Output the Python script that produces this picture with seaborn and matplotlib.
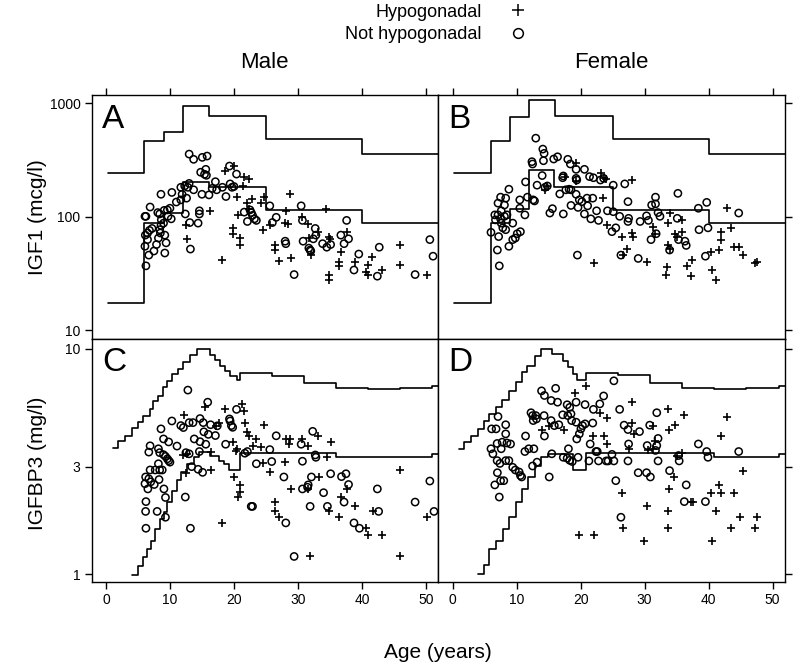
import matplotlib
matplotlib.use("Agg")
import matplotlib.pyplot as plt
import seaborn as sns
from matplotlib.lines import Line2D
from matplotlib.ticker import NullLocator

# ---- reference range step curves (age, value) ----
igf1_male_upper_age = [0.36, 6.0, 9.06, 12.0, 16.1, 25.0, 40.0, 52.0]
igf1_male_upper_val = [245, 464, 560, 942, 770, 483, 355, 355]
igf1_male_lower_age = [0.36, 6.0, 9.06, 12.0, 16.1, 25.0, 40.0, 52.0]
igf1_male_lower_val = [17.3, 88, 109, 201, 182, 114, 89, 89]

igf1_female_upper_age = [0.26, 6.0, 9.0, 12.0, 16.0, 25.0, 40.0, 52.0]
igf1_female_upper_val = [245, 464, 750, 1062, 770, 483, 355, 355]
igf1_female_lower_age = [0.26, 6.0, 9.0, 12.0, 15.8, 25.0, 40.0, 52.0]
igf1_female_lower_val = [17.3, 88, 117, 258, 182, 114, 89, 89]

bp3_male_upper_age = [1.15, 1.93, 2.97, 4.0, 5.05, 5.83, 6.87, 7.4, 8.18, 8.96, 9.5, 10.26,
                      11.3, 12.1, 13.1, 14.2, 16.25, 17.0, 17.8, 18.6, 19.4, 20.4, 20.9,
                      26.0, 31.0, 36.0, 41.0, 46.0, 51.0, 52.0]
bp3_male_upper_val = [3.64, 3.89, 4.12, 4.46, 4.72, 5.05, 5.41, 5.89, 6.19, 6.74, 7.21, 7.73,
                      8.13, 8.69, 9.4, 9.97, 9.4, 8.9, 8.4, 7.95, 7.6, 7.27, 7.8,
                      7.6, 7.02, 6.67, 6.59, 6.67, 6.81, 6.81]
bp3_male_lower_age = [4.0, 5.05, 5.83, 6.35, 7.1, 7.7, 8.4, 9.06, 9.5, 10.26, 11.04, 11.8,
                      12.6, 13.7, 14.5, 16.25, 17.6, 18.4, 19.2, 21.0, 36.0, 51.0, 52.0]
bp3_male_lower_val = [0.99, 1.085, 1.19, 1.30, 1.41, 1.59, 1.75, 1.89, 2.09, 2.35, 2.61, 2.84,
                      3.07, 3.30, 3.48, 3.35, 3.19, 3.09, 2.90, 3.45, 3.32, 3.42, 3.42]

bp3_female_upper_age = [1.04, 1.82, 2.86, 3.9, 4.84, 5.73, 6.77, 7.8, 8.85, 9.9, 10.8, 11.7,
                        12.9, 13.8, 15.6, 17.2, 18.0, 18.75, 19.5, 20.8, 25.8, 30.8, 35.8,
                        40.8, 45.8, 51.0, 52.0]
bp3_female_upper_val = [3.60, 3.85, 4.12, 4.41, 4.79, 5.14, 5.50, 5.93, 6.52, 7.09, 7.84, 8.4,
                        9.3, 9.97, 9.48, 8.85, 8.27, 7.73, 7.27, 7.8, 7.65, 7.02, 6.67,
                        6.59, 6.67, 6.81, 6.81]
bp3_female_lower_age = [3.9, 4.84, 5.73, 6.77, 7.81, 8.85, 9.9, 10.78, 11.72, 12.86, 13.8,
                        14.84, 18.75, 20.8, 40.8, 51.0, 52.0]
bp3_female_lower_val = [1.0, 1.096, 1.30, 1.41, 1.59, 1.79, 2.09, 2.39, 2.69, 3.03, 3.30,
                        3.42, 2.90, 3.45, 3.30, 3.40, 3.40]

# ---- patients: (age in years, value) ----
igf1_male_not_hypo = [
    (13.0, 357), (13.7, 321), (15.05, 334), (15.8, 343), (14.8, 247), (15.6, 262), (15.7, 232),
    (15.4, 237), (19.3, 280), (20.4, 238), (11.7, 182), (12.3, 187), (13.0, 197), (12.8, 182),
    (11.9, 158), (12.6, 146), (11.7, 141), (11.0, 135), (10.3, 164), (8.6, 158), (13.7, 173),
    (15.0, 158), (16.1, 156), (16.6, 178), (17.1, 204), (17.3, 173), (18.2, 182), (19.4, 195),
    (18.75, 151), (19.7, 182), (20.0, 185), (6.9, 122), (6.1, 101), (6.25, 101), (8.1, 109),
    (8.4, 106), (9.1, 114), (9.6, 115), (10.0, 119), (10.2, 96), (9.7, 101), (6.15, 69),
    (6.5, 72), (6.8, 76), (6.1, 55), (6.5, 63), (6.7, 46), (7.5, 50), (7.9, 57), (8.6, 84),
    (8.65, 94), (9.0, 88), (9.2, 69), (9.4, 59), (9.2, 48), (6.25, 37), (8.2, 65), (8.5, 72),
    (8.4, 77), (7.2, 79), (12.4, 106), (13.1, 89), (14.4, 88), (14.6, 113), (14.6, 106),
    (13.2, 52), (21.6, 110), (22.5, 115), (22.7, 109), (22.9, 103), (23.2, 96), (22.1, 91),
    (23.5, 93), (25.6, 125), (26.0, 89), (26.6, 99), (28.0, 61), (28.1, 58), (29.4, 31),
    (30.5, 125), (30.7, 93), (30.8, 61), (31.7, 53), (31.9, 51), (32.0, 50), (32.7, 79),
    (32.8, 69), (32.4, 64), (33.85, 58), (34.5, 54), (35.1, 57), (36.7, 69), (37.2, 58),
    (37.6, 93), (37.9, 64), (39.5, 47), (38.75, 34), (42.7, 54), (42.4, 30), (48.3, 31),
    (50.6, 63), (51.1, 45),
]
igf1_male_hypo = [
    (18.6, 255), (20.0, 280), (21.6, 226), (22.3, 215), (21.4, 188), (20.4, 151), (22.8, 145),
    (24.7, 148), (24.2, 132), (22.1, 132), (22.3, 117), (20.7, 104), (16.25, 113), (12.5, 85),
    (12.7, 64), (18.1, 42), (19.8, 80), (19.9, 71), (20.9, 65), (20.9, 57), (24.6, 76),
    (25.6, 84), (28.8, 158), (28.2, 113), (27.9, 89), (28.5, 86), (30.6, 99), (31.5, 86),
    (31.7, 65), (33.2, 74), (34.8, 67), (35.0, 64), (34.4, 117), (26.4, 56), (26.4, 51),
    (27.1, 41), (28.85, 43), (32.0, 46), (34.9, 31), (34.9, 28), (36.4, 40), (36.4, 37),
    (36.8, 49), (37.6, 73), (38.9, 40), (41.0, 38), (41.0, 31), (40.7, 32.5), (41.6, 44),
    (43.2, 34), (45.9, 56), (46.0, 38), (50.2, 31),
]
igf1_female_not_hypo = [
    (13.0, 493), (14.1, 395), (14.3, 362), (14.2, 312), (12.4, 306), (12.5, 292), (15.8, 323),
    (16.4, 338), (18.0, 321), (18.4, 292), (19.3, 262), (20.6, 262), (14.0, 231), (17.2, 221),
    (17.3, 229), (19.3, 218), (19.4, 211), (21.4, 226), (22.0, 221), (23.1, 211), (23.6, 218),
    (25.1, 190), (26.9, 195), (11.4, 203), (13.2, 190), (14.45, 182), (14.8, 187), (8.8, 175),
    (11.7, 149), (12.6, 141), (12.8, 138), (7.5, 149), (8.3, 146), (7.1, 132), (8.1, 127),
    (7.6, 113), (6.6, 104), (7.1, 104), (8.1, 101), (8.5, 104), (7.5, 96), (6.7, 94),
    (7.6, 88), (7.85, 80), (6.0, 73), (7.2, 67), (8.3, 77), (9.4, 88), (10.5, 141),
    (10.5, 119), (11.3, 104), (10.6, 74), (10.1, 71), (9.8, 65), (9.4, 63), (8.8, 55),
    (7.0, 51), (7.3, 37), (16.75, 159), (17.7, 173), (18.2, 175), (18.5, 173), (19.3, 158),
    (19.8, 141), (20.2, 136), (21.0, 146), (21.9, 146), (15.6, 118), (15.2, 108), (17.3, 106),
    (18.5, 126), (19.6, 121), (20.6, 106), (21.1, 125), (21.6, 96), (22.5, 113), (22.8, 93),
    (24.2, 113), (25.1, 111), (26.1, 101), (27.4, 136), (27.5, 97), (27.4, 91), (24.9, 74),
    (25.5, 80), (26.3, 46), (29.0, 43), (29.3, 91), (30.3, 102), (30.6, 93), (31.1, 127),
    (31.7, 149), (31.7, 130), (32.1, 109), (32.4, 101), (31.8, 71), (31.0, 63), (33.9, 51),
    (35.2, 161), (35.1, 97), (35.3, 63), (36.3, 61), (36.5, 56), (38.5, 77), (38.4, 119),
    (39.7, 134), (39.9, 80), (39.5, 45), (44.7, 108), (19.5, 46),
]
igf1_female_hypo = [
    (19.3, 300), (23.2, 245), (23.6, 218), (24.0, 215), (28.0, 213), (19.3, 208), (17.5, 226),
    (14.7, 187), (14.45, 173), (23.5, 146), (24.1, 84), (26.5, 67), (28.1, 72), (28.2, 67),
    (27.3, 52), (26.7, 46), (22.1, 39), (30.3, 40), (31.3, 82), (31.6, 71), (33.9, 108),
    (33.7, 89), (35.9, 94), (35.8, 74), (34.7, 70), (35.1, 67), (33.7, 57), (33.9, 52),
    (33.5, 36), (33.4, 30.5), (36.7, 37), (37.4, 42), (37.2, 30), (40.3, 49), (40.5, 34),
    (41.2, 28), (41.6, 51), (42.0, 62), (42.0, 74), (43.5, 79), (42.8, 119), (44.0, 54),
    (44.8, 54), (45.3, 46), (47.3, 39), (47.6, 40),
]
bp3_male_not_hypo = [
    (12.8, 6.55), (15.9, 5.79), (20.4, 5.38), (19.3, 4.88), (19.4, 4.78), (14.7, 4.9),
    (10.3, 4.78), (8.6, 4.41), (11.7, 4.56), (12.1, 4.47), (13.0, 4.7), (13.6, 4.7),
    (15.2, 4.7), (17.4, 4.55), (16.35, 4.6), (15.3, 4.28), (16.0, 4.17), (17.1, 4.12),
    (19.6, 4.56), (19.8, 4.48), (9.0, 3.98), (9.8, 3.86), (13.8, 3.98), (14.7, 3.87),
    (15.6, 3.77), (11.1, 3.70), (6.9, 3.71), (6.7, 3.48), (8.2, 3.60), (8.4, 3.46), (9.0, 3.39),
    (9.3, 3.33), (9.6, 3.25), (9.8, 3.19), (10.0, 3.14), (8.2, 3.09), (13.0, 3.42),
    (12.5, 3.46), (14.6, 3.5), (18.7, 3.77), (21.7, 3.44), (22.1, 3.5), (25.6, 3.57),
    (26.6, 4.11), (30.5, 3.77), (32.3, 4.3), (32.7, 3.38), (32.8, 3.3), (23.5, 3.09),
    (25.9, 3.16), (30.7, 3.17), (13.4, 3.0), (14.4, 2.92), (15.1, 2.83), (6.9, 2.9), (7.7, 2.9),
    (8.4, 2.9), (8.8, 2.9), (6.2, 2.7), (6.7, 2.65), (7.0, 2.57), (6.1, 2.52), (6.55, 2.39),
    (7.55, 2.5), (8.3, 2.63), (9.06, 2.39), (9.3, 2.19), (6.25, 2.1), (6.2, 1.90), (8.0, 1.9),
    (6.25, 1.6), (9.3, 1.79), (12.4, 2.2), (13.2, 1.6), (27.8, 2.7), (32.1, 2.7), (31.6, 2.49),
    (31.5, 2.43), (30.7, 2.39), (34.0, 2.3), (35.1, 2.79), (36.8, 2.71), (37.5, 2.79),
    (37.9, 2.5), (37.2, 2.09), (31.9, 2.0), (34.6, 2.0), (42.4, 2.39), (42.6, 1.9),
    (38.75, 1.69), (39.6, 1.6), (28.1, 1.69), (29.4, 1.2), (22.7, 2.0), (22.9, 2.0),
    (48.3, 2.09), (50.6, 2.59), (51.25, 1.9),
]
bp3_male_hypo = [
    (21.2, 5.69), (21.6, 5.3), (15.4, 5.5), (18.6, 5.41), (12.2, 5.1), (21.7, 4.67),
    (24.7, 4.58), (22.1, 4.26), (22.4, 4.12), (23.5, 3.98), (22.9, 3.72), (24.2, 3.66),
    (19.9, 3.85), (20.3, 3.52), (20.4, 3.6), (17.7, 4.7), (17.2, 4.55), (16.4, 3.48),
    (16.35, 2.9), (12.0, 3.38), (12.6, 3.42), (12.5, 2.82), (24.6, 3.12), (25.6, 2.83),
    (28.0, 3.16), (28.2, 3.98), (28.75, 3.96), (28.6, 3.77), (30.6, 3.98), (31.6, 3.69),
    (33.2, 4.11), (35.1, 3.86), (34.5, 3.3), (33.3, 2.7), (20.0, 2.7), (20.9, 2.49),
    (20.9, 2.31), (20.7, 2.19), (28.9, 2.39), (26.4, 2.1), (26.46, 1.9), (27.1, 1.79),
    (18.1, 1.69), (31.9, 1.2), (31.6, 2.39), (34.8, 1.9), (36.4, 1.79), (36.8, 2.19),
    (37.6, 2.39), (38.9, 2.0), (40.7, 1.6), (41.0, 1.5), (41.7, 1.9), (43.1, 1.5), (45.9, 2.9),
    (45.9, 1.2), (50.1, 1.79),
]
bp3_female_not_hypo = [
    (25.2, 7.2), (16.1, 6.67), (13.9, 6.5), (14.35, 6.2), (15.4, 5.89), (16.4, 5.79),
    (17.9, 5.64), (18.3, 5.49), (19.3, 5.79), (20.7, 5.65), (23.6, 6.17), (23.0, 5.69),
    (22.0, 5.38), (26.1, 5.38), (31.9, 5.2), (12.25, 5.2), (12.5, 5.05), (13.0, 5.05),
    (14.3, 5.05), (12.6, 4.8), (13.1, 4.88), (15.4, 4.8), (15.9, 4.56), (16.6, 4.6),
    (17.2, 5.09), (18.0, 5.05), (18.5, 5.14), (18.6, 4.8), (19.3, 4.72), (7.1, 5.0),
    (6.1, 4.41), (6.8, 4.41), (8.3, 4.6), (8.3, 4.19), (11.4, 4.1), (14.35, 4.1), (20.3, 4.56),
    (20.7, 4.64), (21.9, 4.68), (20.05, 4.41), (19.8, 4.19), (19.4, 3.98), (26.8, 4.58),
    (27.4, 4.38), (29.2, 4.29), (30.8, 4.58), (32.1, 4.0), (31.9, 3.72), (31.7, 3.54),
    (30.4, 3.72), (21.5, 3.78), (22.6, 3.5), (24.3, 3.18), (25.2, 3.18), (24.9, 3.4),
    (27.5, 3.78), (27.4, 3.18), (32.1, 3.18), (38.4, 3.78), (39.7, 3.5), (39.9, 3.3),
    (44.7, 3.5), (35.3, 3.36), (35.4, 3.18), (29.0, 2.82), (30.3, 2.82), (30.9, 2.7),
    (33.9, 2.88), (25.5, 2.6), (36.5, 2.49), (36.2, 2.1), (39.5, 2.1), (26.3, 1.79), (6.0, 3.6),
    (6.3, 3.42), (6.96, 3.8), (7.75, 3.85), (8.5, 3.82), (9.06, 3.78), (7.6, 3.6), (6.96, 3.19),
    (7.4, 3.1), (8.3, 3.19), (8.8, 3.19), (9.4, 2.98), (9.8, 2.9), (10.4, 2.84), (10.6, 2.74),
    (10.8, 2.7), (11.3, 3.5), (11.9, 3.6), (12.7, 3.6), (12.5, 3.02), (7.0, 2.82), (6.6, 2.49),
    (7.5, 2.6), (8.0, 2.6), (7.3, 2.2), (15.1, 2.7), (13.2, 3.14), (15.5, 3.42), (17.3, 3.3),
    (17.9, 3.27), (18.3, 3.2), (18.7, 3.16), (19.6, 3.3), (18.1, 3.6), (21.3, 3.18),
    (22.8, 3.18), (24.0, 3.18), (22.4, 3.5),
]
bp3_female_hypo = [
    (20.9, 6.8), (19.2, 6.37), (28.1, 5.79), (33.7, 5.41), (36.1, 5.09), (42.8, 5.0),
    (23.1, 5.2), (24.2, 4.92), (21.9, 4.12), (23.6, 4.12), (24.1, 3.78), (28.1, 4.68),
    (28.3, 4.19), (31.3, 4.53), (31.6, 3.88), (33.8, 4.38), (34.8, 4.58), (41.9, 4.12),
    (17.4, 4.38), (14.0, 4.34), (15.1, 4.56), (27.5, 3.6), (31.3, 3.6), (30.6, 3.54),
    (35.9, 3.46), (35.0, 3.36), (45.3, 2.88), (34.6, 2.7), (33.8, 2.39), (26.5, 2.3),
    (30.4, 2.0), (33.7, 1.9), (33.6, 1.6), (26.7, 1.6), (19.8, 1.5), (22.1, 1.5), (29.9, 1.4),
    (40.5, 1.4), (37.2, 2.1), (37.5, 2.1), (41.6, 2.49), (40.3, 2.3), (42.0, 2.3), (44.0, 2.3),
    (41.2, 1.9), (43.5, 1.6), (44.9, 1.79), (47.6, 1.79), (47.3, 1.6),
]

x_ticks = [0, 10, 20, 30, 40, 50]
igf1_ticks = [10, 100, 1000]
bp3_ticks = [1, 3, 10]

sns.set_style("ticks")
plt.rcParams["font.family"] = ["Liberation Sans", "DejaVu Sans"]
plt.rcParams["text.color"] = "black"
plt.rcParams["axes.labelcolor"] = "black"


def draw_panel(ax, circles, crosses, upper, lower, letter):
    for ages, vals in (upper, lower):
        sns.lineplot(x=ages, y=vals, drawstyle="steps-post", color="black",
                     linewidth=1.2, estimator=None, sort=False, ax=ax)
    cx, cy = zip(*circles)
    sns.scatterplot(x=list(cx), y=list(cy), marker="o", s=27, facecolors="none",
                    edgecolor="black", linewidth=1.1, ax=ax)
    px, py = zip(*crosses)
    sns.scatterplot(x=list(px), y=list(py), marker="+", s=32, color="black",
                    linewidth=1.2, ax=ax)
    ax.text(0.03, 0.965, letter, transform=ax.transAxes, fontsize=24,
            va="top", ha="left", color="black")


fig, axes = plt.subplots(2, 2, figsize=(8, 6.71), dpi=100)
fig.subplots_adjust(left=0.1144, right=0.981, top=0.8584, bottom=0.1322,
                    wspace=0, hspace=0)

draw_panel(axes[0, 0], igf1_male_not_hypo, igf1_male_hypo,
           (igf1_male_upper_age, igf1_male_upper_val),
           (igf1_male_lower_age, igf1_male_lower_val), "A")
draw_panel(axes[0, 1], igf1_female_not_hypo, igf1_female_hypo,
           (igf1_female_upper_age, igf1_female_upper_val),
           (igf1_female_lower_age, igf1_female_lower_val), "B")
draw_panel(axes[1, 0], bp3_male_not_hypo, bp3_male_hypo,
           (bp3_male_upper_age, bp3_male_upper_val),
           (bp3_male_lower_age, bp3_male_lower_val), "C")
draw_panel(axes[1, 1], bp3_female_not_hypo, bp3_female_hypo,
           (bp3_female_upper_age, bp3_female_upper_val),
           (bp3_female_lower_age, bp3_female_lower_val), "D")

for i in range(2):
    for j in range(2):
        ax = axes[i, j]
        ax.set_yscale("log")
        ax.set_xlim(-2.25, 51.9)
        if i == 0:
            ax.set_ylim(8.45, 1183)
            ax.set_yticks(igf1_ticks)
            ax.set_yticklabels([str(t) for t in igf1_ticks])
        else:
            ax.set_ylim(0.922, 11.07)
            ax.set_yticks(bp3_ticks)
            ax.set_yticklabels([str(t) for t in bp3_ticks])
        ax.yaxis.set_minor_locator(NullLocator())
        ax.set_xticks(x_ticks)
        ax.set_xlabel("")
        ax.set_ylabel("")
        ax.tick_params(direction="out", length=5, width=1, colors="black",
                       labelcolor="black", labelsize=10, pad=3)
        ax.tick_params(axis="x", top=(i == 0), labeltop=False,
                       bottom=(i == 1), labelbottom=(i == 1))
        ax.tick_params(axis="y", left=(j == 0), labelleft=(j == 0),
                       right=(j == 1), labelright=False)
        for sp in ax.spines.values():
            sp.set_visible(True)
            sp.set_color("black")
            sp.set_linewidth(1.0)

fig.text(0.331, 0.9076, "Male", ha="center", va="center", fontsize=16)
fig.text(0.764, 0.9076, "Female", ha="center", va="center", fontsize=16)
fig.text(0.047, 0.677, "IGF1 (mcg/l)", rotation=90, ha="center", va="center", fontsize=15)
fig.text(0.047, 0.31, "IGFBP3 (mg/l)", rotation=90, ha="center", va="center", fontsize=15)
fig.text(0.5475, 0.028, "Age (years)", ha="center", va="center", fontsize=15)

handles = [
    Line2D([], [], marker="+", color="black", linestyle="none", markersize=9,
           markeredgewidth=1.1),
    Line2D([], [], marker="o", color="black", markerfacecolor="none",
           linestyle="none", markersize=7, markeredgewidth=1.1),
]
leg = fig.legend(handles, ["Hypogonadal", "Not hypogonadal"], loc="upper left",
                 bbox_to_anchor=(0.427, 1.0), markerfirst=False, frameon=False,
                 fontsize=13, handlelength=1.0, handletextpad=1.5, labelspacing=0.3,
                 borderpad=0.2, borderaxespad=0)
for t in leg.get_texts():
    t.set_color("black")

fig.savefig("out.png", dpi=100)
